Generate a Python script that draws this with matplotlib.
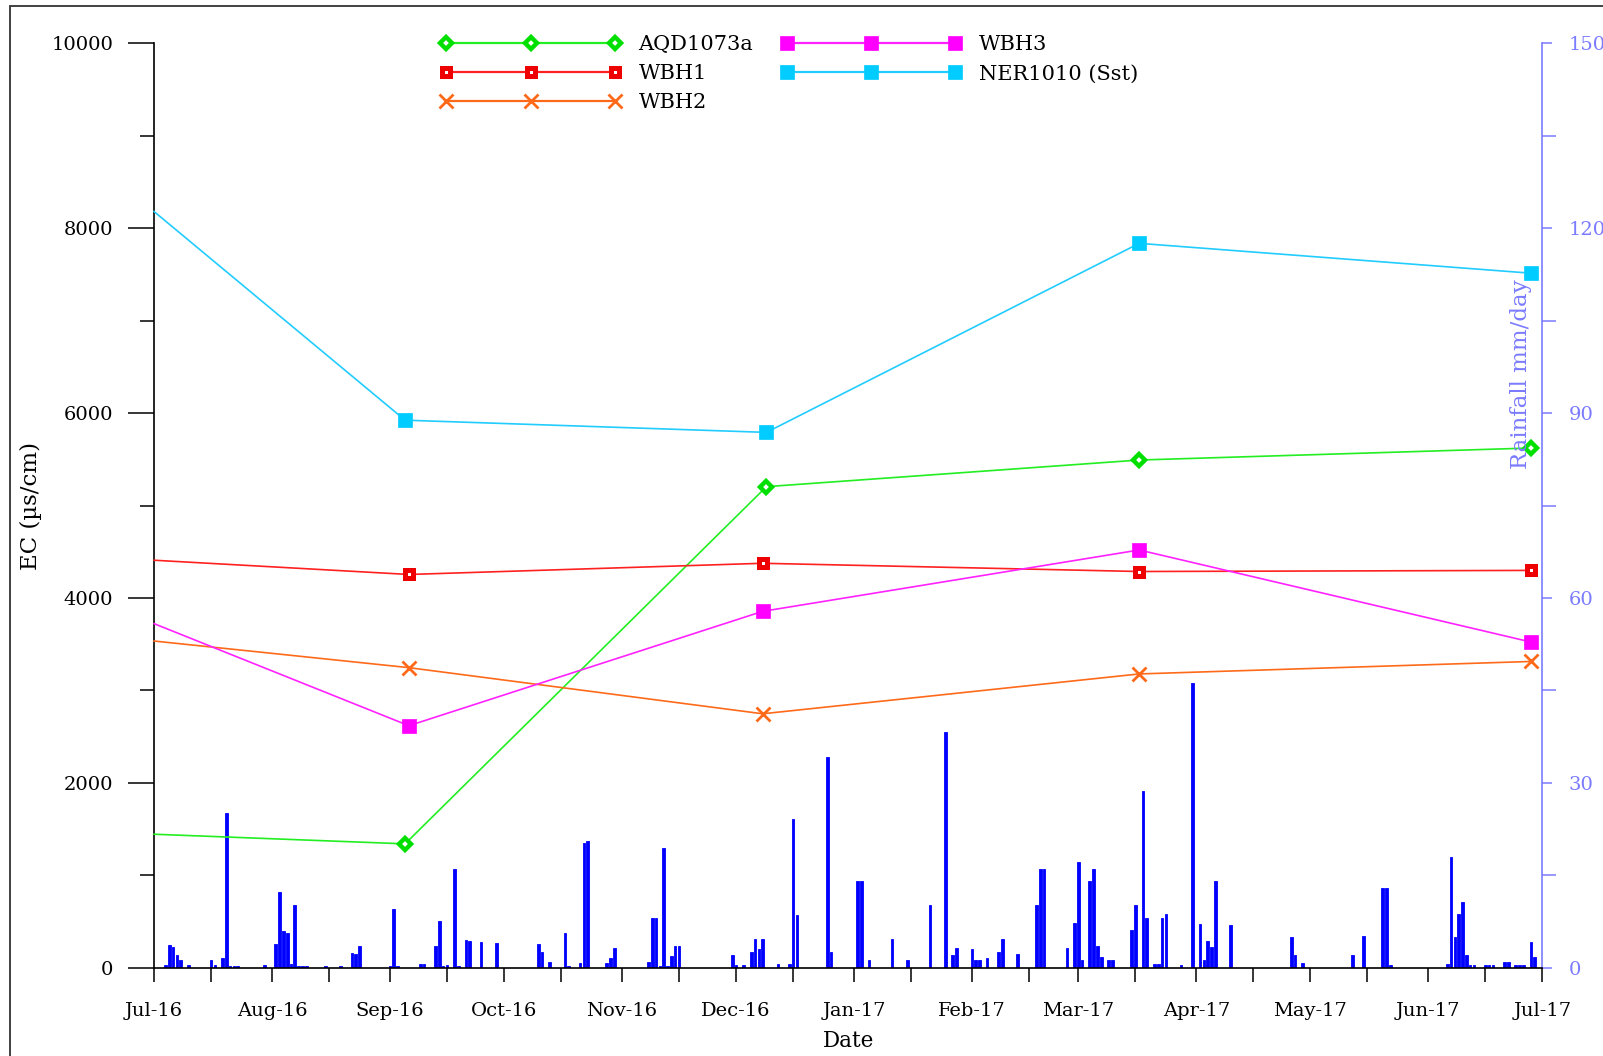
import datetime as dt
import matplotlib
matplotlib.use("Agg")
import matplotlib.pyplot as plt
import matplotlib.dates as mdates
from matplotlib.lines import Line2D
from matplotlib.patches import Rectangle
from matplotlib.ticker import MultipleLocator

plt.rcParams["font.family"] = ["DejaVu Serif"]

# ---- EC sampling rounds (µS/cm) ----
dates_aqd = ["2016-07-01", "2016-09-05", "2016-12-09", "2017-03-17", "2017-06-28"]
dates_wbh = ["2016-07-01", "2016-09-06", "2016-12-08", "2017-03-17", "2017-06-28"]
ec_aqd1073a = [1444, 1340, 5204, 5492, 5622]
ec_wbh1 = [4408, 4254, 4375, 4286, 4298]
ec_wbh2 = [3534, 3246, 2747, 3178, 3313]
ec_wbh3 = [3722, 2618, 3855, 4519, 3523]
ec_ner1010 = [8180, 5923, 5791, 7836, 7513]

# ---- daily rainfall (mm/day) ----
rain_dates = [
    "2016-07-04", "2016-07-05", "2016-07-06", "2016-07-07", "2016-07-08", "2016-07-10",
    "2016-07-16", "2016-07-17", "2016-07-19", "2016-07-20", "2016-07-21", "2016-07-22",
    "2016-07-23", "2016-07-30", "2016-08-02", "2016-08-03", "2016-08-04", "2016-08-05",
    "2016-08-06", "2016-08-07", "2016-08-08", "2016-08-09", "2016-08-10", "2016-08-15",
    "2016-08-19", "2016-08-22", "2016-08-23", "2016-08-24", "2016-09-01", "2016-09-02",
    "2016-09-03", "2016-09-09", "2016-09-10", "2016-09-13", "2016-09-14", "2016-09-15",
    "2016-09-16", "2016-09-18", "2016-09-19", "2016-09-21", "2016-09-22", "2016-09-25",
    "2016-09-29", "2016-10-10", "2016-10-11", "2016-10-13", "2016-10-17", "2016-10-18",
    "2016-10-21", "2016-10-22", "2016-10-23", "2016-10-28", "2016-10-29", "2016-10-30",
    "2016-11-08", "2016-11-09", "2016-11-10", "2016-11-11", "2016-11-12", "2016-11-13",
    "2016-11-14", "2016-11-15", "2016-11-16", "2016-11-30", "2016-12-01", "2016-12-03",
    "2016-12-05", "2016-12-06", "2016-12-07", "2016-12-08", "2016-12-12", "2016-12-15",
    "2016-12-16", "2016-12-17", "2016-12-25", "2016-12-26", "2017-01-02", "2017-01-03",
    "2017-01-05", "2017-01-11", "2017-01-15", "2017-01-21", "2017-01-25", "2017-01-27",
    "2017-01-28", "2017-02-01", "2017-02-02", "2017-02-03", "2017-02-05", "2017-02-08",
    "2017-02-09", "2017-02-13", "2017-02-18", "2017-02-19", "2017-02-20", "2017-02-26",
    "2017-02-28", "2017-03-01", "2017-03-02", "2017-03-04", "2017-03-05", "2017-03-06",
    "2017-03-07", "2017-03-09", "2017-03-10", "2017-03-15", "2017-03-16", "2017-03-18",
    "2017-03-19", "2017-03-21", "2017-03-22", "2017-03-23", "2017-03-24", "2017-03-28",
    "2017-03-31", "2017-04-02", "2017-04-03", "2017-04-04", "2017-04-05", "2017-04-06",
    "2017-04-10", "2017-04-26", "2017-04-27", "2017-04-29", "2017-05-12", "2017-05-15",
    "2017-05-20", "2017-05-21", "2017-05-22", "2017-06-06", "2017-06-07", "2017-06-08",
    "2017-06-09", "2017-06-10", "2017-06-11", "2017-06-12", "2017-06-13", "2017-06-16",
    "2017-06-17", "2017-06-18", "2017-06-21", "2017-06-22", "2017-06-24", "2017-06-25",
    "2017-06-26", "2017-06-28", "2017-06-29",
]
rain_mm = [
    0.4, 3.7, 3.4, 2.1, 1.2, 0.4,
    1.2, 0.4, 1.5, 25.1, 0.3, 0.3,
    0.3, 0.4, 3.8, 12.3, 6.0, 5.7,
    0.6, 10.1, 0.3, 0.3, 0.3, 0.3,
    0.3, 2.4, 2.3, 3.5, 0.3, 9.5,
    0.3, 0.6, 0.6, 3.5, 7.5, 0.3,
    0.4, 16.0, 0.3, 4.5, 4.3, 4.1,
    4.0, 3.9, 2.6, 0.9, 5.7, 0.3,
    0.7, 20.2, 20.5, 0.7, 1.5, 3.2,
    1.0, 8.1, 8.1, 0.3, 19.5, 0.3,
    1.9, 3.5, 3.5, 2.1, 0.4, 0.4,
    2.6, 4.6, 3.1, 4.6, 0.6, 0.6,
    24.2, 8.5, 34.2, 2.6, 14.1, 14.1,
    1.2, 4.7, 1.2, 10.1, 38.2, 2.1,
    3.2, 3.1, 1.2, 1.2, 1.5, 2.6,
    4.7, 2.3, 10.1, 16.0, 16.0, 3.2,
    7.2, 17.2, 1.2, 14.1, 16.0, 3.5,
    1.8, 1.2, 1.2, 6.1, 10.1, 28.6,
    8.1, 0.6, 0.6, 8.1, 8.7, 0.4,
    46.2, 7.1, 1.2, 4.4, 3.3, 14.1,
    6.9, 5.0, 2.1, 0.7, 2.1, 5.2,
    13.0, 13.0, 0.5, 0.6, 18.0, 5.0,
    8.7, 10.6, 2.1, 0.4, 0.4, 0.4,
    0.4, 0.4, 1.0, 1.0, 0.4, 0.4,
    0.4, 4.1, 1.8,
]

x_start, x_end = "2016-07-01", "2017-07-01"
ec_ticks = [0, 2000, 4000, 6000, 8000, 10000]
rain_ticks = [0, 30, 60, 90, 120, 150]

to_date = lambda s: dt.datetime.strptime(s, "%Y-%m-%d")

series = [
    ("AQD1073a", dates_aqd, ec_aqd1073a, "#22ee22",
     dict(marker="D", ms=6.4, mfc="white", mec="#00e000", mew=3.2)),
    ("WBH1", dates_wbh, ec_wbh1, "#ff2020",
     dict(marker="s", ms=6.4, mfc="white", mec="#ee0000", mew=3.6)),
    ("WBH2", dates_wbh, ec_wbh2, "#ff6a1a",
     dict(marker="x", ms=10, mfc="#ff6a1a", mec="#ff6a1a", mew=2.0)),
    ("WBH3", dates_wbh, ec_wbh3, "#ff22ff",
     dict(marker="s", ms=10, mfc="#ff00ff", mec="#ff00ff", mew=0.5)),
    ("NER1010 (Sst)", dates_aqd, ec_ner1010, "#22ccff",
     dict(marker="s", ms=10, mfc="#00ccff", mec="#00ccff", mew=0.5)),
]

rain_color = "#0000ff"
axis2_color = "#7b7bff"
fs = 14

fig = plt.figure(figsize=(16.03, 10.56), dpi=100)
ax = fig.add_axes([0.0961, 0.0836, 0.8661, 0.8754])
ax2 = ax.twinx()

# rainfall columns on the secondary axis, behind the EC lines
rd = [to_date(d) for d in rain_dates]
ax2.bar(rd, rain_mm, width=0.7, color=rain_color, edgecolor=rain_color, linewidth=0.6, zorder=1)
ax2.set_ylim(0, 150)
ax2.set_yticks(rain_ticks)
ax2.yaxis.set_minor_locator(MultipleLocator(15))
ax2.tick_params(axis="y", which="major", direction="out", length=7, width=1.1,
                colors=axis2_color, labelsize=fs, pad=12)
ax2.tick_params(axis="y", which="minor", direction="out", length=10, width=1.1,
                colors=axis2_color)
for s in ("left", "top", "bottom"):
    ax2.spines[s].set_visible(False)
ax2.spines["right"].set_color(axis2_color)
ax2.spines["right"].set_linewidth(1.2)

ax.set_zorder(ax2.get_zorder() + 1)
ax.patch.set_visible(False)

handles = []
for name, dts, vals, col, mk in series:
    xd = [to_date(d) for d in dts]
    ax.plot(xd, vals, color=col, lw=1.2, zorder=3, clip_on=False)
    ax.plot(xd[1:], vals[1:], ls="none", zorder=4, clip_on=False, **mk)
    handles.append(Line2D([], [], color=col, lw=1.6, label=name, **mk))

ax.set_xlim(to_date(x_start), to_date(x_end))
ax.set_ylim(0, 10000)
ax.set_yticks(ec_ticks)
ax.yaxis.set_minor_locator(MultipleLocator(1000))
ax.xaxis.set_major_locator(mdates.MonthLocator())
ax.xaxis.set_major_formatter(mdates.DateFormatter("%b-%y"))
ax.xaxis.set_minor_locator(mdates.DayLocator(bymonthday=16))

ax.tick_params(axis="y", which="major", direction="out", length=18.5, width=1.1,
               labelsize=fs, pad=11)
ax.tick_params(axis="y", which="minor", direction="out", length=10, width=1.1)
ax.tick_params(axis="x", which="both", direction="out", length=10, width=1.1,
               labelsize=fs, pad=15)
for s in ("top", "right"):
    ax.spines[s].set_visible(False)
for s in ("left", "bottom"):
    ax.spines[s].set_linewidth(1.2)

ax.set_xlabel("Date", fontsize=15.5, labelpad=7)
fig.text(0.0195, 0.521, "EC (µs/cm)", rotation=90, ha="center", va="center", fontsize=16.5)
fig.text(0.949, 0.646, "Rainfall mm/day", rotation=90, ha="center", va="center",
         fontsize=16.5, color=axis2_color)

leg = ax.legend(handles=handles, ncol=2, numpoints=3, frameon=False, fontsize=15,
                handlelength=8.7, handletextpad=0.83, columnspacing=1.3,
                labelspacing=0.48, loc="upper left",
                bbox_to_anchor=(0.200, 1.0175), borderaxespad=0)

# frame around the whole figure
fig.patches.append(Rectangle((10 / 1603, -0.05), 1.2, 1.05 - 6 / 1056,
                             transform=fig.transFigure, fill=False,
                             edgecolor="#333333", lw=1.3))

fig.savefig("out.png", dpi=100)
